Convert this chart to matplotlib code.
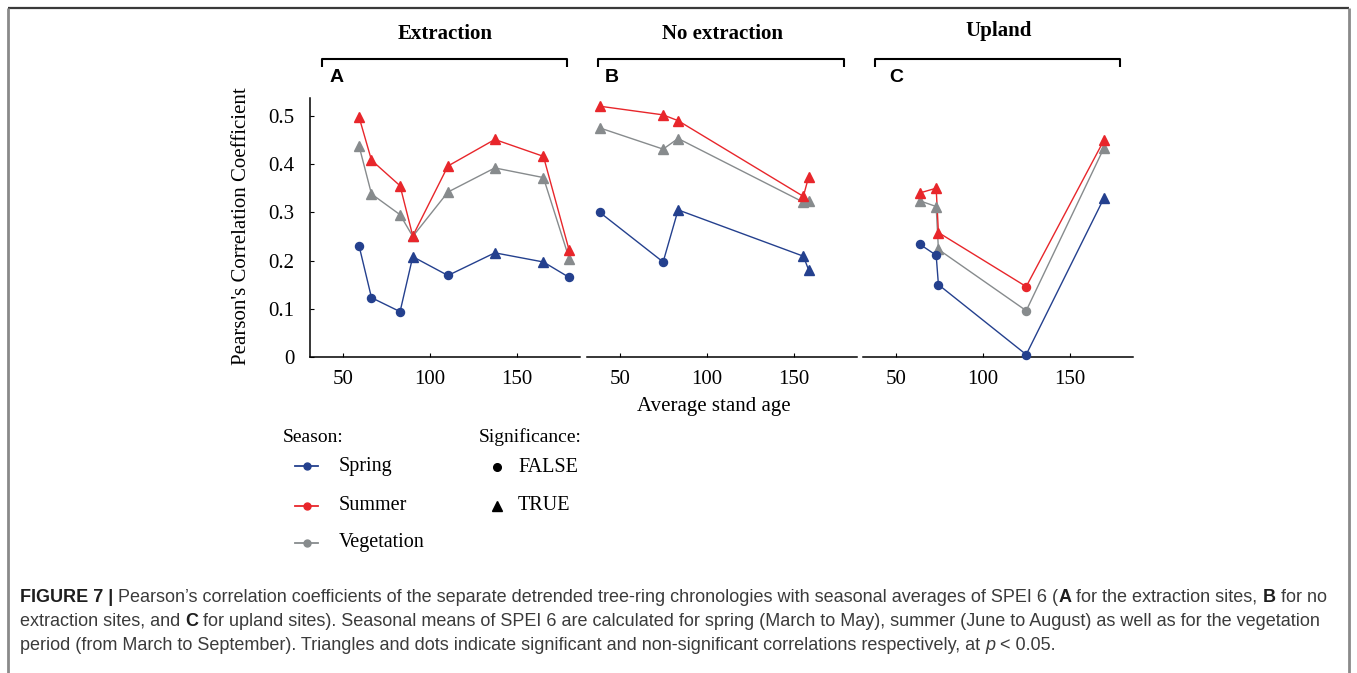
import matplotlib
matplotlib.use("Agg")
import matplotlib.pyplot as plt

# ---- data -------------------------------------------------------------
seasons = ["Spring", "Summer", "Vegetation"]
season_colors = {"Spring": "#24408e", "Summer": "#e8262b", "Vegetation": "#878b8d"}

panel_titles = ["Extraction", "No extraction", "Upland"]
panel_letters = ["A", "B", "C"]

# stand ages per site, one list per panel
age_a = [59.2, 66.3, 82.7, 90.0, 110.2, 137.1, 165.0, 179.8]
age_b = [38.3, 74.7, 83.3, 155.2, 158.2]
age_c = [63.5, 73.0, 74.3, 124.7, 169.4]

# correlation coefficients (panel A)
spring_a = [0.230, 0.123, 0.094, 0.208, 0.169, 0.216, 0.197, 0.165]
summer_a = [0.497, 0.408, 0.355, 0.251, 0.396, 0.451, 0.416, 0.221]
veg_a = [0.437, 0.338, 0.295, 0.250, 0.342, 0.392, 0.372, 0.204]
# significance (panel A)
spring_sig_a = [False, False, False, True, False, True, True, False]
summer_sig_a = [True] * 8
veg_sig_a = [True] * 8

# panel B
spring_b = [0.300, 0.197, 0.305, 0.209, 0.181]
summer_b = [0.520, 0.502, 0.490, 0.333, 0.373]
veg_b = [0.475, 0.431, 0.453, 0.321, 0.324]
spring_sig_b = [False, False, True, True, True]
summer_sig_b = [True] * 5
veg_sig_b = [True] * 5

# panel C
spring_c = [0.234, 0.211, 0.150, 0.005, 0.330]
summer_c = [0.340, 0.350, 0.258, 0.146, 0.450]
veg_c = [0.324, 0.312, 0.223, 0.096, 0.434]
spring_sig_c = [False, False, False, False, True]
summer_sig_c = [True, True, True, False, True]
veg_sig_c = [True, True, True, False, True]

yticks = [0, 0.1, 0.2, 0.3, 0.4, 0.5]
ytick_labels = ["0", "0.1", "0.2", "0.3", "0.4", "0.5"]
xticks = [50, 100, 150]

panels = [
    (age_a, {"Spring": (spring_a, spring_sig_a), "Summer": (summer_a, summer_sig_a),
             "Vegetation": (veg_a, veg_sig_a)}),
    (age_b, {"Spring": (spring_b, spring_sig_b), "Summer": (summer_b, summer_sig_b),
             "Vegetation": (veg_b, veg_sig_b)}),
    (age_c, {"Spring": (spring_c, spring_sig_c), "Summer": (summer_c, summer_sig_c),
             "Vegetation": (veg_c, veg_sig_c)}),
]

# ---- figure -----------------------------------------------------------
W, H = 1357, 673
fig = plt.figure(figsize=(W / 100, H / 100), dpi=100)
fig.patch.set_facecolor("white")

serif = ["Liberation Serif", "DejaVu Serif"]
sans = ["Liberation Sans", "DejaVu Sans"]

ax_left = [310, 587, 863]
ax_w = 270
ax_top, ax_bottom = 98, 357


def px_rect(x0, y0, x1, y1):
    return [x0 / W, 1 - y1 / H, (x1 - x0) / W, (y1 - y0) / H]


axes = []
for i, (ages, series) in enumerate(panels):
    ax = fig.add_axes(px_rect(ax_left[i], ax_top, ax_left[i] + ax_w, ax_bottom))
    axes.append(ax)
    for s in ["Vegetation", "Summer", "Spring"]:
        vals, sig = series[s]
        col = season_colors[s]
        ax.plot(ages, vals, color=col, lw=1.0, zorder=2, clip_on=False)
        for xv, yv, sg in zip(ages, vals, sig):
            ax.plot([xv], [yv], marker="^" if sg else "o", ms=7 if sg else 5.8,
                    color=col, mec=col, ls="none", zorder=3, clip_on=False)
    ax.set_xlim(31, 186)
    ax.set_ylim(0, 0.537)
    for sp in ["top", "right"]:
        ax.spines[sp].set_visible(False)
    ax.spines["bottom"].set_linewidth(1.1)
    ax.spines["left"].set_linewidth(1.1)
    ax.set_xticks(xticks)
    ax.set_xticklabels([str(t) for t in xticks], fontfamily=serif, fontsize=15)
    ax.tick_params(axis="x", direction="in", length=3, width=0.8, pad=9)
    if i == 0:
        ax.set_yticks(yticks)
        ax.set_yticklabels(ytick_labels, fontfamily=serif, fontsize=15)
        ax.tick_params(axis="y", direction="in", length=3, width=0.8, pad=11)
    else:
        ax.spines["left"].set_visible(False)
        ax.set_yticks([])
    ax.patch.set_visible(False)

# ---- overlay in pixel coordinates --------------------------------------
ov = fig.add_axes([0, 0, 1, 1], zorder=-1)
ov.set_xlim(0, W)
ov.set_ylim(H, 0)
ov.axis("off")

# axis titles
ov.text(241, 226, "Pearson's Correlation Coefficient", rotation=90, ha="center",
        va="center", fontfamily=serif, fontsize=15)
ov.text(714, 407, "Average stand age", ha="center", va="center",
        fontfamily=serif, fontsize=15)

# panel headers with brackets
title_x = [445, 722, 999]
title_y = [34, 34, 31]
br = [(322, 567), (598, 844), (875, 1120)]
letter_x = [330, 605, 889]
for i in range(3):
    ov.text(title_x[i], title_y[i], panel_titles[i], ha="center", va="center",
            fontfamily=serif, fontsize=15, fontweight="bold")
    x0, x1 = br[i]
    ov.plot([x0, x0, x1, x1], [67, 58.5, 58.5, 67], color="black", lw=1.5,
            solid_capstyle="butt")
    ov.text(letter_x[i], 77, panel_letters[i], ha="left", va="center",
            fontfamily=sans, fontsize=14, fontweight="bold")

# legend: season
ov.text(283, 437, "Season:", ha="left", va="center", fontfamily=serif, fontsize=14)
leg_y = [466, 506, 543]
for s, y in zip(seasons, leg_y):
    c = season_colors[s]
    ov.plot([295, 318], [y, y], color=c, lw=1.3)
    ov.plot([306.5], [y], marker="o", ms=5, color=c, ls="none")
    ov.text(339, y, s, ha="left", va="center", fontfamily=serif, fontsize=14.5)

# legend: significance
ov.text(479, 437, "Significance:", ha="left", va="center", fontfamily=serif, fontsize=14)
ov.plot([497], [467], marker="o", ms=5.5, color="black", ls="none")
ov.plot([497], [506], marker="^", ms=6.5, color="black", ls="none")
ov.text(518, 467, "FALSE", ha="left", va="center", fontfamily=serif, fontsize=14.5)
ov.text(518, 506, "TRUE", ha="left", va="center", fontfamily=serif, fontsize=14.5)

# frame around the figure
ov.plot([8, 1349], [8, 8], color="#3a3a3a", lw=1.6, solid_capstyle="butt")
ov.plot([8, 8], [8, H], color="#8a8a8a", lw=2.0, solid_capstyle="butt")
ov.plot([1349, 1349], [8, H], color="#8a8a8a", lw=2.0, solid_capstyle="butt")

# caption with mixed weights
renderer = fig.canvas.get_renderer()
cap_size = 12.95
cap_color = "#3b3b3b"


def rich_line(x, y, pieces):
    for txt, weight, style in pieces:
        t = ov.text(x, y, txt, ha="left", va="center", fontfamily=sans,
                    fontsize=cap_size, fontweight=weight, fontstyle=style,
                    color="#1e1e1e" if weight == "bold" else cap_color)
        bb = t.get_window_extent(renderer=renderer)
        x += bb.width


n, b, it = "normal", "bold", "italic"
rich_line(20, 597, [
    ("FIGURE 7 |", b, n),
    (" Pearson\u2019s correlation coefficients of the separate detrended tree-ring "
     "chronologies with seasonal averages of SPEI 6 (", n, n),
    ("A", b, n), (" for the extraction sites, ", n, n), ("B", b, n), (" for no", n, n),
])
rich_line(20, 621, [
    ("extraction sites, and ", n, n), ("C", b, n),
    (" for upland sites). Seasonal means of SPEI 6 are calculated for spring "
     "(March to May), summer (June to August) as well as for the vegetation", n, n),
])
rich_line(20, 645, [
    ("period (from March to September). Triangles and dots indicate significant "
     "and non-significant correlations respectively, at ", n, n),
    ("p", n, it), (" < 0.05.", n, n),
])

fig.savefig("out.png", dpi=100, facecolor="white")
